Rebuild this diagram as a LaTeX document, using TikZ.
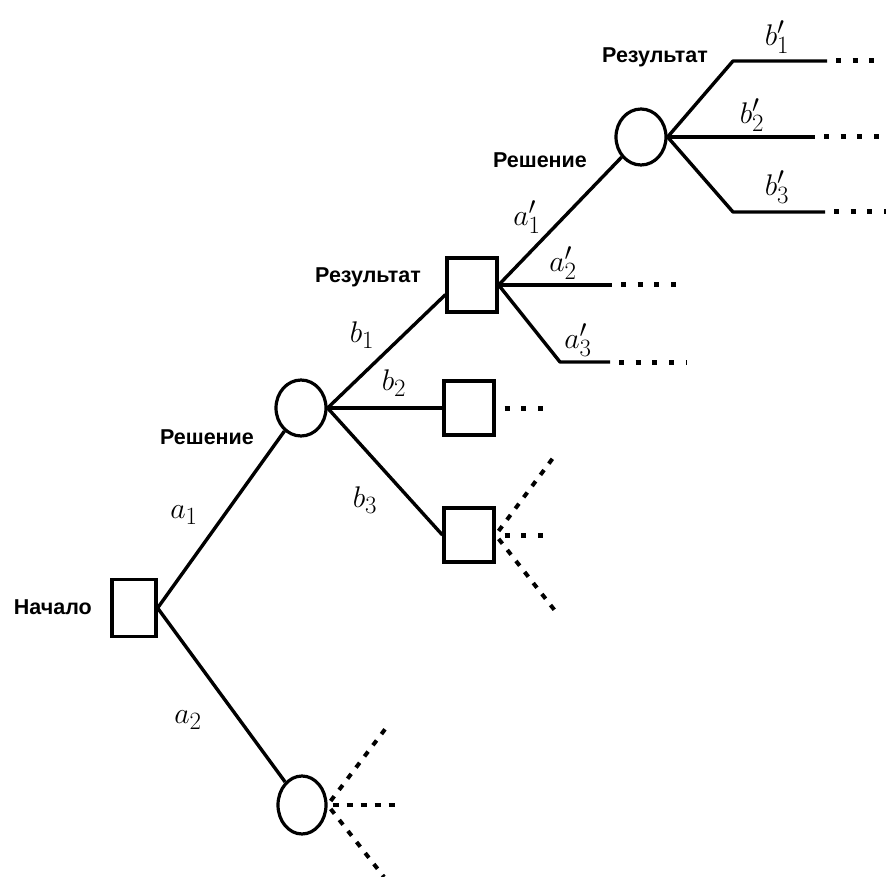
\documentclass[tikz,border=0pt]{standalone}
\usepackage{graphicx}
\usepackage{fontspec}
\newfontfamily\labfont{Liberation Sans}
\usetikzlibrary{shapes.geometric,calc}
\newcommand{\mlabtext}[1]{\scalebox{1.2}{\fontsize{24.88}{25}\selectfont$#1$}}
\tikzset{
  boxnode/.style={draw, line width=3.2pt, minimum width=50pt, minimum height=54pt, inner sep=0pt},
  circnode/.style={draw, ellipse, line width=3.2pt, minimum width=50pt, minimum height=56pt, inner sep=0pt},
  edgeline/.style={line width=3.4pt},
  dotline/.style={line width=5pt, dash pattern=on 5pt off 11.7pt, shorten <=9pt},
  dashline/.style={line width=4pt, dash pattern=on 6pt off 8pt, shorten <=5pt},
  txt/.style={font=\labfont\bfseries\fontsize{21.5}{22}\selectfont, inner sep=0pt},
  mlab/.style={inner sep=0pt},
}
\begin{document}
\begin{tikzpicture}[x=1pt,y=-1pt]
\useasboundingbox (0,0) rectangle (886,877);
% nodes
\node[boxnode, minimum width=44pt, minimum height=57pt] (start) at (134,608) {};
\node[circnode] (c1) at (301,408) {};
\node[circnode, minimum width=48pt, minimum height=58pt] (c2) at (302,805) {};
\node[circnode] (c3) at (641,137) {};
\node[boxnode] (r1) at (472,285) {};
\node[boxnode] (r2) at (469,408) {};
\node[boxnode] (r3) at (469,535) {};
% free ends
\coordinate (a2e) at (612,285); \coordinate (a2d) at (686,285);
\coordinate (a3k) at (560,362); \coordinate (a3e) at (610,362); \coordinate (a3d) at (686,362);
\coordinate (b1k) at (733,61); \coordinate (b1e) at (827,61); \coordinate (b1d) at (886,61);
\coordinate (b2e) at (815,137); \coordinate (b2d) at (886,137);
\coordinate (b3k) at (733,212); \coordinate (b3e) at (825,212); \coordinate (b3d) at (886,212);
\coordinate (r2d) at (552,408);
\coordinate (r3u) at (553,458); \coordinate (r3m) at (552,535); \coordinate (r3l) at (556,612);
\coordinate (c2u) at (386,728); \coordinate (c2m) at (402,805); \coordinate (c2l) at (384,877);
% connectors
\draw[edgeline] (start.east) -- (c1);
\draw[edgeline] (start.east) -- (c2);
\draw[edgeline] (c1.east) -- (r1.200);
\draw[edgeline] (c1.east) -- (r2.west);
\draw[edgeline] (c1.east) -- (r3.west);
\draw[dotline] (r2.east) -- (r2d);
\draw[dashline] (r3.east) -- (r3u);
\draw[dotline] (r3.east) -- (r3m);
\draw[dashline] (r3.east) -- (r3l);
\draw[dashline] (c2.east) -- (c2u);
\draw[dashline] (c2.east) -- (c2m);
\draw[dashline] (c2.east) -- (c2l);
\draw[edgeline] (r1.east) -- (c3);
\draw[edgeline] (r1.east) -- (a2e);
\draw[dotline] (a2e) -- (a2d);
\draw[edgeline, line join=round] (r1.east) -- (a3k) -- (a3e);
\draw[dotline] (a3e) -- (a3d);
\draw[edgeline, line join=round] (c3.east) -- (b1k) -- (b1e);
\draw[dotline] (b1e) -- (b1d);
\draw[edgeline] (c3.east) -- (b2e);
\draw[dotline] (b2e) -- (b2d);
\draw[edgeline, line join=round] (c3.east) -- (b3k) -- (b3e);
\draw[dotline] (b3e) -- (b3d);
% text labels
\node[txt, anchor=east] (lstart) at (92,607) {Начало};
\node[txt] (ldec1) at (207,437) {Решение};
\node[txt] (lres1) at (368,277) {Результат};
\node[txt] (ldec2) at (540,160) {Решение};
\node[txt] (lres2) at (655,57) {Результат};
% math labels
\node[mlab] (la1) at (184,515) {\mlabtext{a_1}};
\node[mlab] (la2) at (188,720) {\mlabtext{a_2}};
\node[mlab] (lb1) at (362,335) {\mlabtext{b_1}};
\node[mlab] (lb2) at (394,383) {\mlabtext{b_2}};
\node[mlab] (lb3) at (365,500) {\mlabtext{b_3}};
\node[mlab] (la1p) at (527,217) {\mlabtext{a'_1}};
\node[mlab] (la2p) at (563,263) {\mlabtext{a'_2}};
\node[mlab] (la3p) at (578,340) {\mlabtext{a'_3}};
\node[mlab] (lb1p) at (777,37) {\mlabtext{b'_1}};
\node[mlab] (lb2p) at (752,115) {\mlabtext{b'_2}};
\node[mlab] (lb3p) at (777,187) {\mlabtext{b'_3}};
\end{tikzpicture}
\end{document}
